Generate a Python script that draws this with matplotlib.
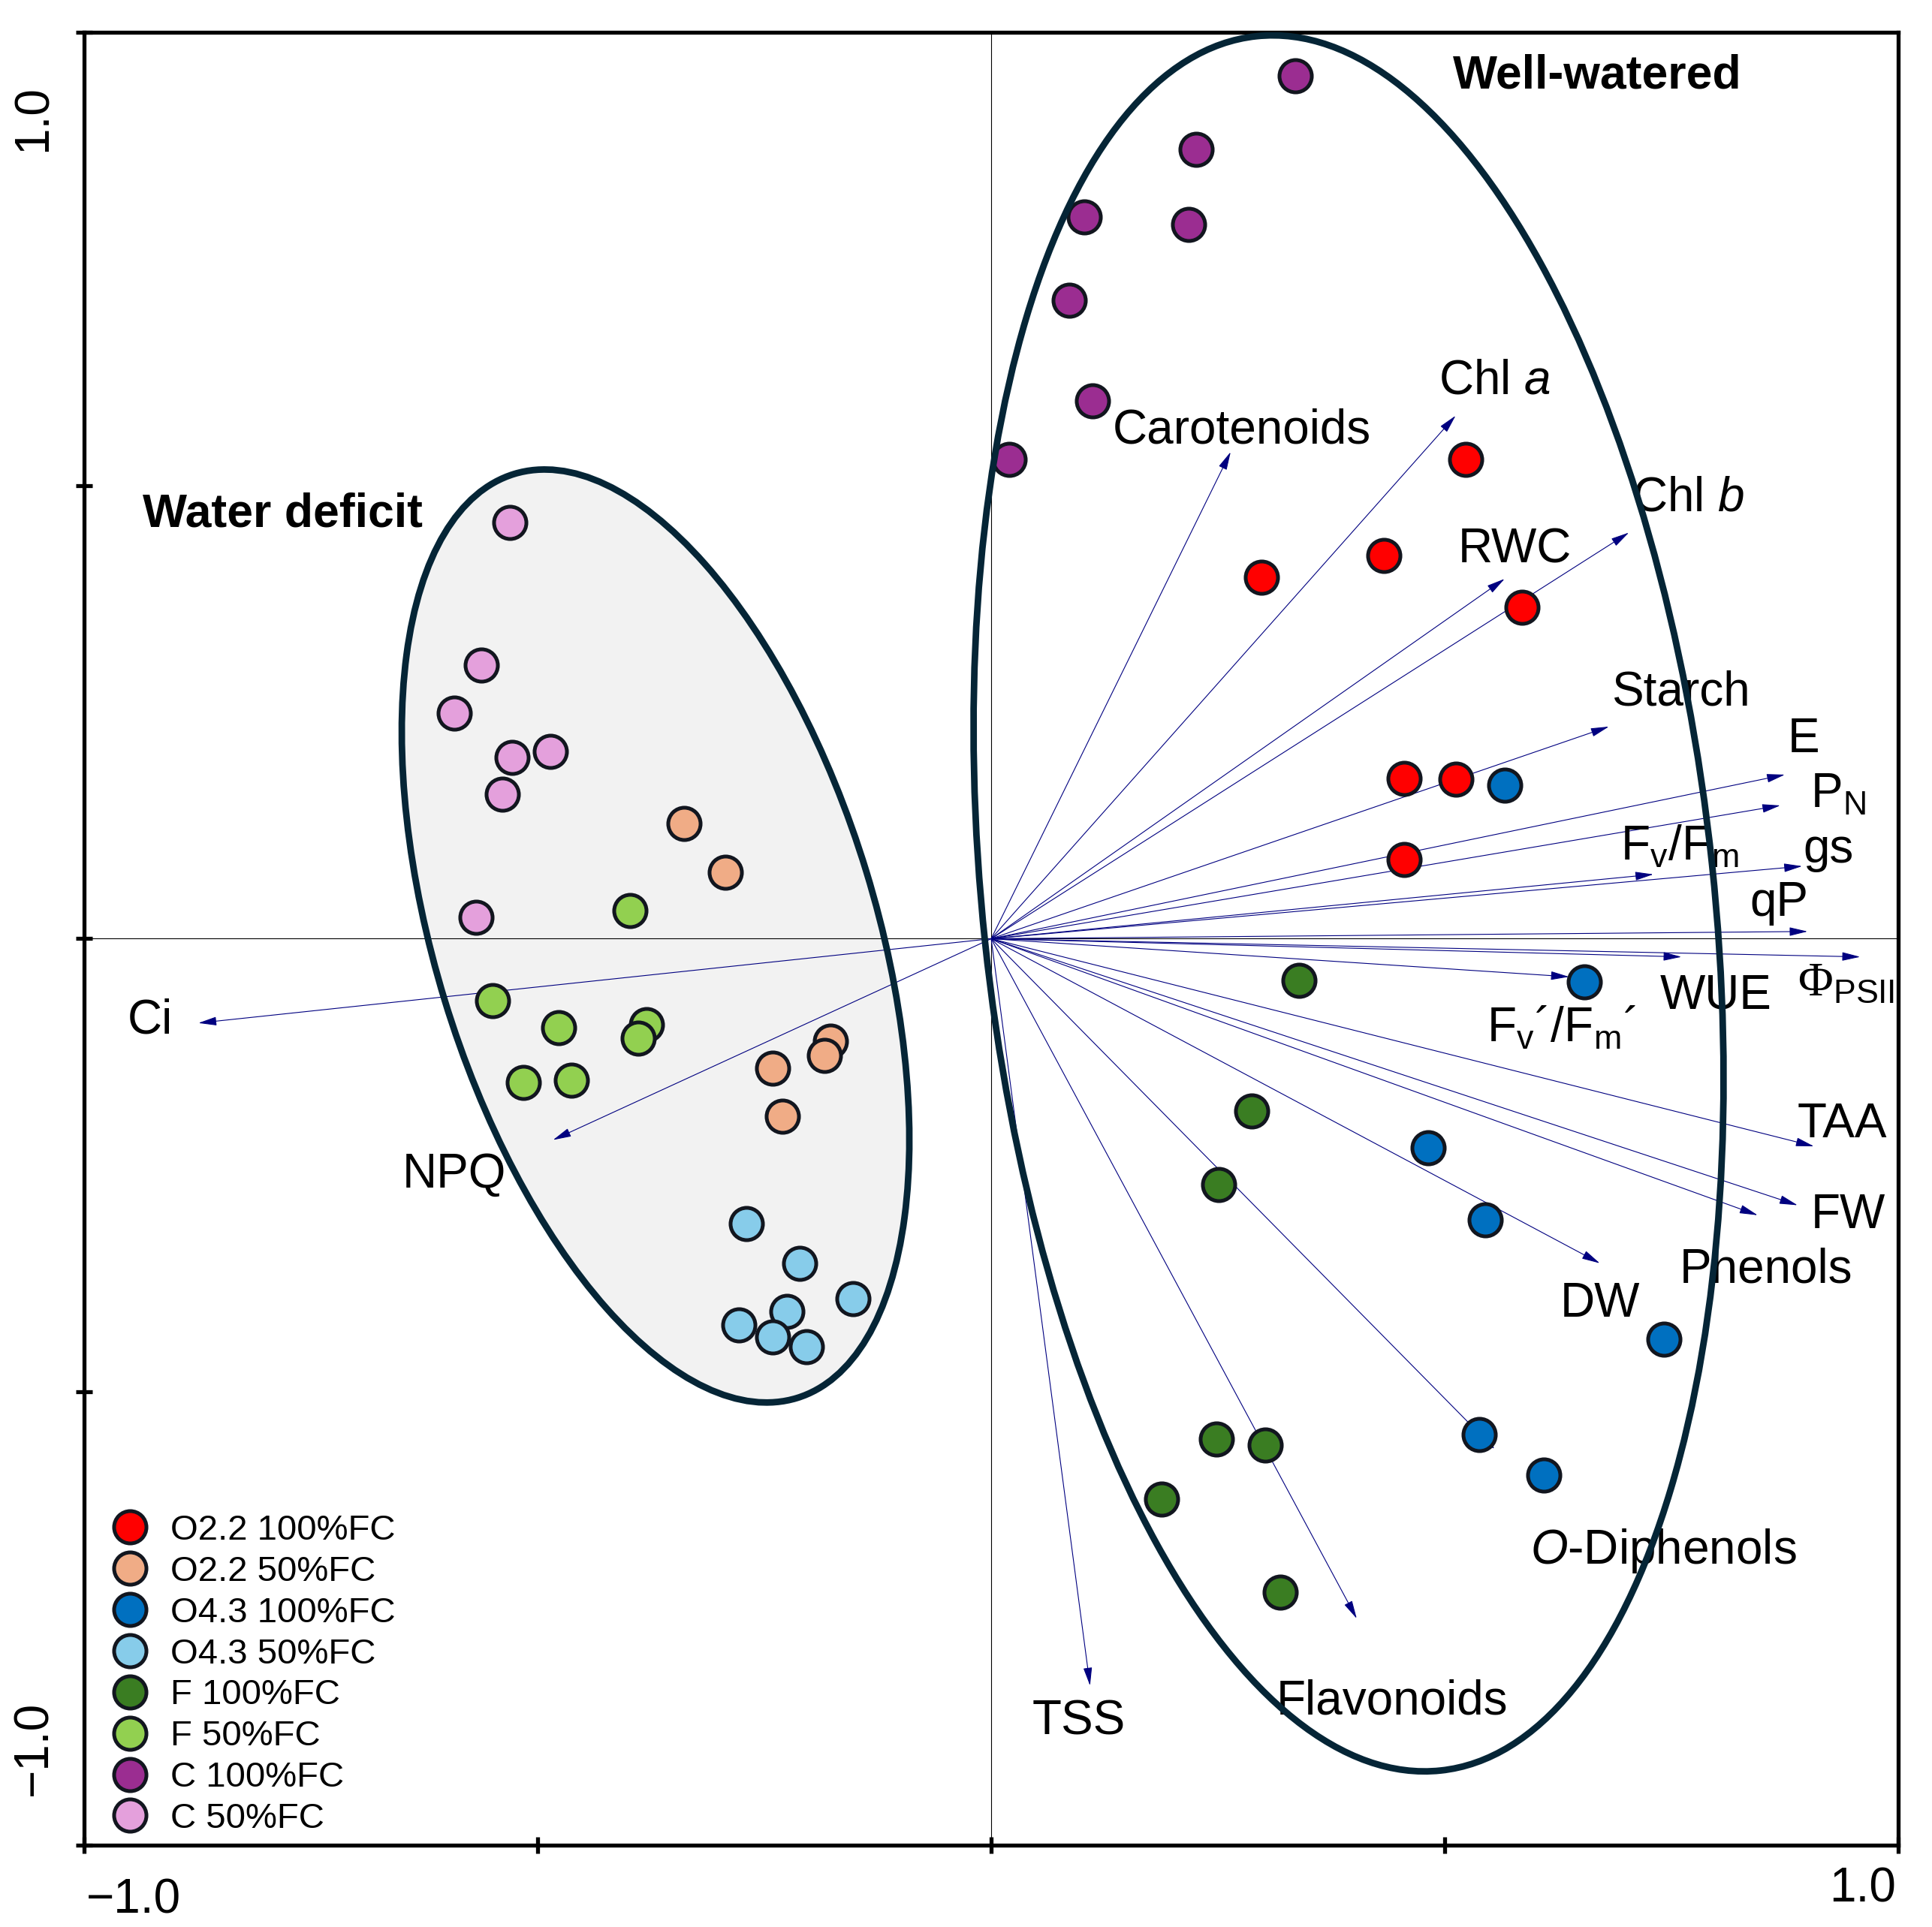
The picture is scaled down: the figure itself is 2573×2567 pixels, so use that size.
import numpy as np
import matplotlib
matplotlib.use("Agg")
import matplotlib.pyplot as plt
from matplotlib.patches import Ellipse
from matplotlib.lines import Line2D

plt.rcParams['font.family'] = ['Liberation Sans', 'DejaVu Sans']
plt.rcParams['mathtext.fontset'] = 'custom'
plt.rcParams['mathtext.rm'] = 'Liberation Sans'
plt.rcParams['mathtext.it'] = 'Liberation Sans:italic'
plt.rcParams['mathtext.cal'] = 'Liberation Serif'

# ---- scores of the samples (PC1, PC2) ----
groups = ['O2.2 100%FC', 'O2.2 50%FC', 'O4.3 100%FC', 'O4.3 50%FC',
          'F 100%FC', 'F 50%FC', 'C 100%FC', 'C 50%FC']
colors = ['#FF0000', '#F0AC86', '#0070C0', '#87CCEA',
          '#3A7D22', '#92D050', '#9B2D91', '#E4A0DC']

o22_100_x = [0.523, 0.433, 0.298, 0.585, 0.455, 0.512, 0.455]
o22_100_y = [0.529, 0.423, 0.399, 0.366, 0.177, 0.176, 0.087]
o22_50_x = [-0.339, -0.293, -0.177, -0.184, -0.241, -0.230]
o22_50_y = [0.127, 0.073, -0.113, -0.129, -0.143, -0.196]
o43_100_x = [0.566, 0.654, 0.482, 0.545, 0.742, 0.538, 0.609]
o43_100_y = [0.169, -0.048, -0.231, -0.310, -0.442, -0.547, -0.592]
o43_50_x = [-0.270, -0.211, -0.152, -0.225, -0.278, -0.241, -0.204]
o43_50_y = [-0.314, -0.358, -0.397, -0.411, -0.426, -0.439, -0.450]
f_100_x = [0.339, 0.287, 0.251, 0.248, 0.302, 0.188, 0.319]
f_100_y = [-0.046, -0.190, -0.271, -0.552, -0.559, -0.618, -0.721]
f_50_x = [-0.398, -0.550, -0.477, -0.380, -0.389, -0.516, -0.463]
f_50_y = [0.031, -0.068, -0.098, -0.095, -0.110, -0.159, -0.156]
c_100_x = [0.335, 0.226, 0.103, 0.218, 0.086, 0.112, 0.020]
c_100_y = [0.952, 0.871, 0.796, 0.788, 0.704, 0.593, 0.529]
c_50_x = [-0.531, -0.562, -0.592, -0.528, -0.486, -0.539, -0.568]
c_50_y = [0.459, 0.302, 0.249, 0.200, 0.207, 0.159, 0.024]

scores_x = [o22_100_x, o22_50_x, o43_100_x, o43_50_x, f_100_x, f_50_x, c_100_x, c_50_x]
scores_y = [o22_100_y, o22_50_y, o43_100_y, o43_50_y, f_100_y, f_50_y, c_100_y, c_50_y]

# ---- loadings of the variables ----
var_names = ['Carotenoids', 'Chl $\\it{a}$', 'RWC', 'Chl $\\it{b}$', 'Starch', 'E',
             'P$_\\mathregular{N}$', 'F$_\\mathregular{v}$/F$_\\mathregular{m}$', 'gs', 'qP',
             '$\\mathcal{\\Phi}_\\mathregular{PSII}$', 'WUE',
             'F$_\\mathregular{v}$\u00b4/F$_\\mathregular{m}$\u00b4', 'TAA', 'FW', 'Phenols',
             'DW', '$\\it{O}$-Diphenols', 'Flavonoids', 'TSS', 'NPQ', 'Ci']
load_x = [0.264, 0.512, 0.566, 0.703, 0.681, 0.875, 0.870, 0.730, 0.894, 0.900,
          0.958, 0.761, 0.637, 0.907, 0.889, 0.845, 0.671, 0.555, 0.403, 0.109,
          -0.483, -0.874]
load_y = [0.537, 0.577, 0.397, 0.448, 0.234, 0.181, 0.147, 0.071, 0.080, 0.008,
          -0.020, -0.020, -0.042, -0.229, -0.294, -0.305, -0.358, -0.563, -0.750, -0.824,
          -0.222, -0.093]

# label placement (x, y, ha) for each variable, same order as var_names
label_pos = [(0.276, 0.561, 'center'), (0.555, 0.615, 'center'), (0.577, 0.429, 'center'),
             (0.769, 0.486, 'center'), (0.760, 0.272, 'center'), (0.896, 0.220, 'center'),
             (0.903, 0.159, 'left'), (0.694, 0.101, 'left'), (0.923, 0.098, 'center'),
             (0.869, 0.039, 'center'), (0.889, -0.048, 'left'), (0.799, -0.063, 'center'),
             (0.546, -0.099, 'left'), (0.938, -0.205, 'center'), (0.945, -0.305, 'center'),
             (0.854, -0.365, 'center'), (0.671, -0.403, 'center'), (0.741, -0.675, 'center'),
             (0.442, -0.841, 'center'), (0.097, -0.864, 'center'), (-0.592, -0.260, 'center'),
             (-0.927, -0.090, 'center')]

fig = plt.figure(figsize=(25.73, 25.67), dpi=100)
ax = fig.add_axes([0.04353, 0.04246, 0.9390, 0.9408])
ax.set_xlim(-1, 1)
ax.set_ylim(-1, 1)

ax.axhline(0, color='black', lw=0.8, zorder=1)
ax.axvline(0, color='black', lw=0.8, zorder=1)

# group ellipses
edge = '#052536'
ax.add_patch(Ellipse((-0.370, 0.003), 2 * 0.243, 2 * 0.533, angle=17.0,
                     facecolor='#F2F2F2', edgecolor='none', zorder=0))
ax.add_patch(Ellipse((-0.370, 0.003), 2 * 0.243, 2 * 0.533, angle=17.0,
                     facecolor='none', edgecolor=edge, lw=6.3, zorder=10))
ax.add_patch(Ellipse((0.394, 0.039), 2 * 0.403, 2 * 0.962, angle=6.06,
                     facecolor='none', edgecolor=edge, lw=6.3, zorder=10))

# loading arrows
for name, lx, ly, (tx, ty, ha) in zip(var_names, load_x, load_y, label_pos):
    ax.annotate('', xy=(lx, ly), xytext=(0, 0),
                arrowprops=dict(arrowstyle='-|>,head_length=0.5,head_width=0.12',
                                color='#000080', lw=0.8, mutation_scale=30,
                                shrinkA=0, shrinkB=0), zorder=3)
    ax.text(tx, ty, name, fontsize=46, ha=ha, va='center', zorder=5)

# sample scores
for xs, ys, c in zip(scores_x, scores_y, colors):
    ax.scatter(xs, ys, s=961, color=c, edgecolors='#12161f', linewidths=3.6, zorder=6)

ax.text(-0.781, 0.468, 'Water deficit', fontsize=45, fontweight='bold', ha='center', va='center')
ax.text(0.668, 0.952, 'Well-watered', fontsize=45, fontweight='bold', ha='center', va='center')

handles = [Line2D([], [], ls='none', marker='o', markersize=31, markerfacecolor=c,
                  markeredgecolor='#12161f', markeredgewidth=3.6) for c in colors]
ax.legend(handles, groups, loc='lower left', bbox_to_anchor=(0.0155, 0.0054),
          frameon=False, fontsize=34, labelspacing=0.23, handletextpad=0.646,
          borderaxespad=0, borderpad=0, handlelength=1.0)

# axes styling
for sp in ax.spines.values():
    sp.set_linewidth(3.8)
ax.set_xticks([-1, -0.5, 0, 0.5, 1])
ax.set_yticks([-1, -0.5, 0, 0.5, 1])
ax.set_xticklabels([])
ax.set_yticklabels([])
ax.tick_params(direction='inout', length=16, width=3.8)

ax.text(-0.9975, -1.0364, '\u22121.0', fontsize=46, ha='left', va='top')
ax.text(0.9975, -1.024, '1.0', fontsize=46, ha='right', va='top')
ax.text(-1.0555, 0.942, '1.0', fontsize=46, rotation=90, ha='center', va='top')
ax.text(-1.0555, -0.945, '\u22121.0', fontsize=46, rotation=90, ha='center', va='bottom')

fig.savefig('out.png', dpi=100)
